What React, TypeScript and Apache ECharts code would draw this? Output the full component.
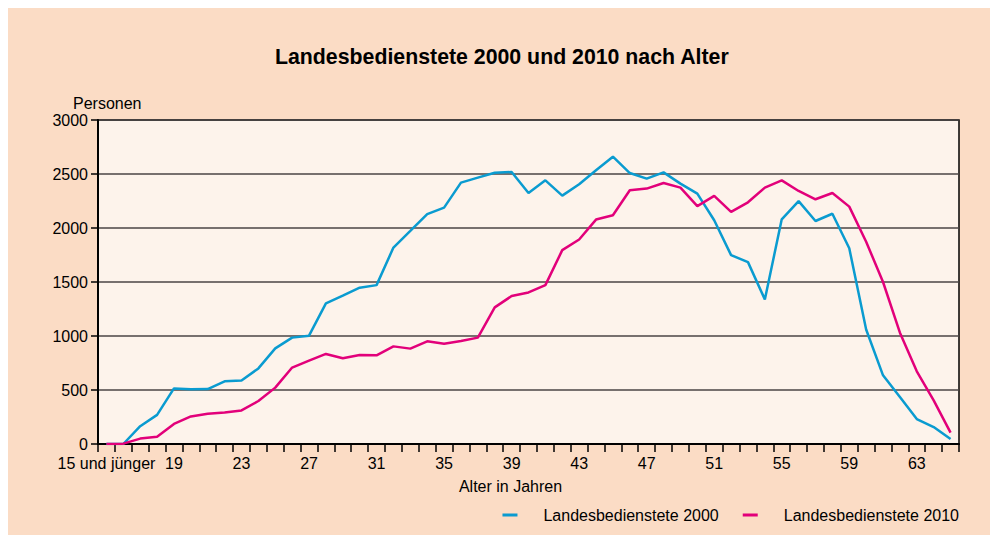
import React, { useEffect, useRef } from "react";
import * as echarts from "echarts";

const categories = [
  "15 und jünger", "16", "17", "18", "19", "20", "21", "22", "23", "24",
  "25", "26", "27", "28", "29", "30", "31", "32", "33", "34",
  "35", "36", "37", "38", "39", "40", "41", "42", "43", "44",
  "45", "46", "47", "48", "49", "50", "51", "52", "53", "54",
  "55", "56", "57", "58", "59", "60", "61", "62", "63", "64", "65",
];

const values2000 = [
  0, 0, 165, 270, 515, 506, 509, 580, 588, 700,
  885, 985, 1003, 1302, 1373, 1447, 1471, 1819, 1973, 2128,
  2189, 2420, 2466, 2512, 2518, 2324, 2441, 2300, 2405, 2534,
  2660, 2509, 2457, 2515, 2411, 2318, 2072, 1749, 1684, 1339,
  2080, 2249, 2065, 2132, 1812, 1060, 636, 435, 231, 157, 46,
];

const values2010 = [
  0, 3, 50, 68, 186, 255, 280, 292, 311, 398,
  522, 708, 772, 834, 794, 824, 821, 904, 883, 951,
  929, 954, 985, 1265, 1370, 1403, 1471, 1795, 1893, 2078,
  2118, 2349, 2365, 2417, 2374, 2202, 2297, 2149, 2238, 2374,
  2441, 2343, 2266, 2324, 2198, 1873, 1500, 1031, 673, 404, 105,
];

const seriesNames = ["Landesbedienstete 2000", "Landesbedienstete 2010"];
const titleText = "Landesbedienstete 2000 und 2010 nach Alter";
const yAxisName = "Personen";
const xAxisName = "Alter in Jahren";

const FONT = "'Liberation Sans', Arial, sans-serif";

export default function App() {
  const ref = useRef<HTMLDivElement>(null);

  useEffect(() => {
    if (!ref.current) return;
    const chart = echarts.init(ref.current, undefined, { renderer: "svg" });
    chart.setOption({
      animation: false,
      backgroundColor: "#fbdcc5",
      textStyle: { fontFamily: FONT },
      title: {
        text: titleText,
        left: 267,
        top: 38,
        padding: 0,
        textStyle: { fontFamily: FONT, fontSize: 21.3, fontWeight: "bold", color: "#000" },
      },
      grid: {
        left: 90,
        right: 31,
        top: 112,
        bottom: 91,
        show: true,
        backgroundColor: "#fdf3eb",
        borderColor: "#000",
        borderWidth: 1.5,
      },
      legend: {
        right: 31,
        top: 499,
        padding: 0,
        itemGap: 24,
        itemWidth: 15,
        itemHeight: 3,
        icon: "rect",
        data: seriesNames,
        textStyle: { fontFamily: FONT, fontSize: 16, color: "#000", padding: [0, 0, 0, 21] },
      },
      xAxis: {
        type: "category",
        data: categories,
        boundaryGap: true,
        axisLine: { show: true, lineStyle: { color: "#000", width: 2 } },
        axisTick: { show: true, interval: 0, length: 8, lineStyle: { color: "#000", width: 1.5 } },
        axisLabel: { interval: 3, margin: 11, fontSize: 16, color: "#000", fontFamily: FONT },
        splitLine: { show: false },
      },
      yAxis: {
        type: "value",
        min: 0,
        max: 3000,
        interval: 500,
        axisLine: { show: true, lineStyle: { color: "#000", width: 2 } },
        axisTick: { show: true, length: 7, lineStyle: { color: "#000", width: 1.5 } },
        axisLabel: {
          margin: 10,
          fontSize: 16,
          color: "#000",
          fontFamily: FONT,
          formatter: (v: number) => String(v),
        },
        splitLine: { show: true, lineStyle: { color: "#4a4545", width: 1.5 } },
      },
      graphic: [
        {
          type: "text",
          left: 65,
          top: 87,
          style: { text: yAxisName, font: `16px ${FONT}`, fill: "#000" },
        },
        {
          type: "text",
          x: 502.5,
          y: 478,
          style: {
            text: xAxisName,
            font: `16px ${FONT}`,
            fill: "#000",
            align: "center",
            verticalAlign: "middle",
          },
        },
      ],
      series: [
        {
          name: seriesNames[0],
          type: "line",
          data: values2000,
          symbol: "none",
          color: "#0a9bd0",
          lineStyle: { width: 2.5, color: "#0a9bd0" },
        },
        {
          name: seriesNames[1],
          type: "line",
          data: values2010,
          symbol: "none",
          color: "#e2007a",
          lineStyle: { width: 2.5, color: "#e2007a" },
        },
      ],
    });
    return () => chart.dispose();
  }, []);

  return <div ref={ref} style={{ width: 982, height: 527 }} />;
}
